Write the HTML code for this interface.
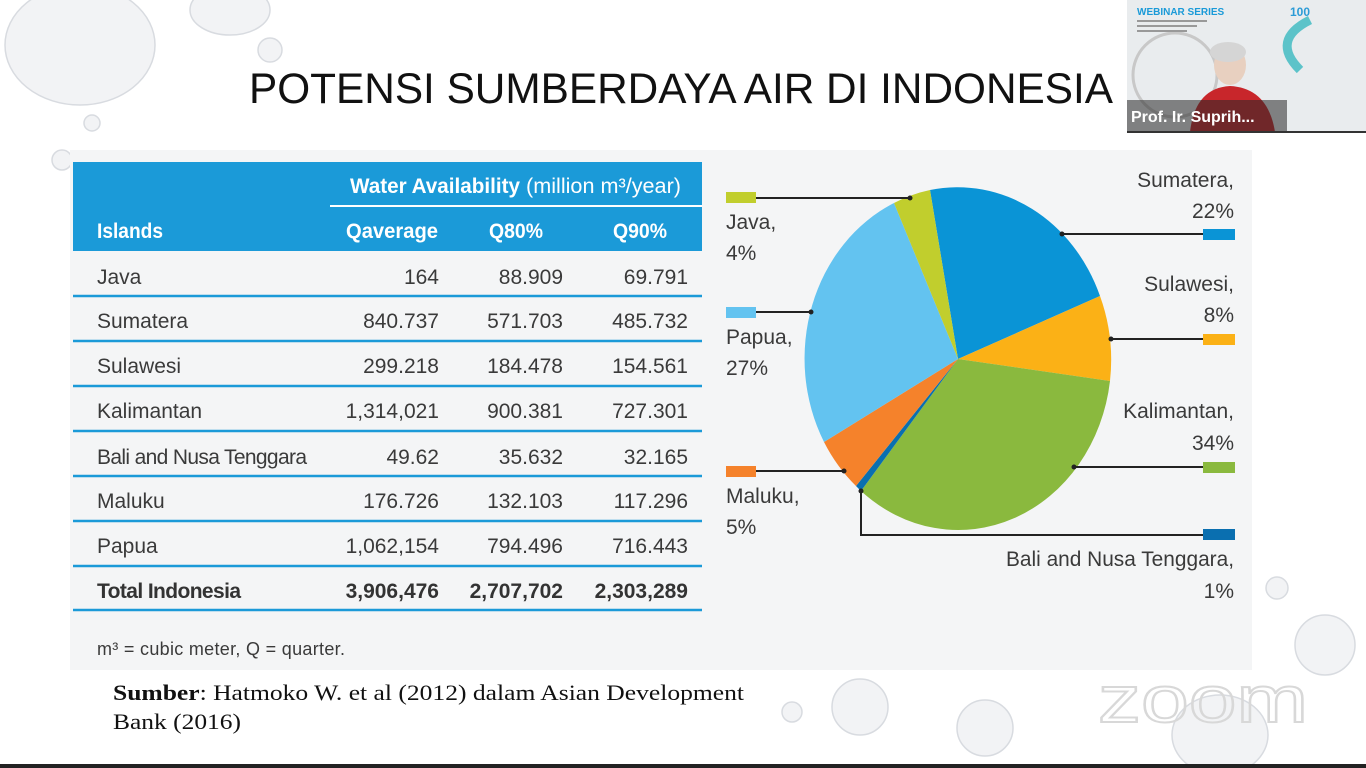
<!DOCTYPE html>
<html><head><meta charset="utf-8"><style>
html,body{margin:0;padding:0;background:#fff;width:1366px;height:768px;overflow:hidden}
</style></head><body>
<svg width="1366" height="768" viewBox="0 0 1366 768" xmlns="http://www.w3.org/2000/svg" style="position:absolute;left:0;top:0">
<rect width="1366" height="768" fill="#fff"/>
<g fill="#f2f3f5" stroke="#d8dbe0" stroke-width="1.5">
<ellipse cx="80" cy="45" rx="75" ry="60"/>
<ellipse cx="230" cy="10" rx="40" ry="25"/>
<circle cx="270" cy="50" r="12"/>
<circle cx="92" cy="123" r="8"/>
<circle cx="62" cy="160" r="10"/>
<circle cx="860" cy="707" r="28"/>
<circle cx="792" cy="712" r="10"/>
<circle cx="985" cy="728" r="28"/>
<ellipse cx="1220" cy="735" rx="48" ry="40"/>
<circle cx="1325" cy="645" r="30"/>
<circle cx="1277" cy="588" r="11"/>
</g>
<rect x="0" y="764" width="1366" height="4" fill="#222"/>
<text x="249" y="103" font-family="Liberation Sans, sans-serif" font-size="43" fill="#111" textLength="864" lengthAdjust="spacingAndGlyphs">POTENSI SUMBERDAYA AIR DI INDONESIA</text>
<rect x="70" y="150" width="1182" height="520" fill="#f4f5f6"/>
<rect x="73" y="162" width="629" height="89" fill="#1b9ad8"/>
<line x1="330" y1="206" x2="702" y2="206" stroke="#fff" stroke-width="2"/>
<g font-family="Liberation Sans, sans-serif" font-weight="bold" fill="#fff" font-size="21">
<text x="350" y="193" textLength="170" lengthAdjust="spacingAndGlyphs">Water Availability</text>
<text x="526" y="193" font-weight="normal" textLength="155" lengthAdjust="spacingAndGlyphs">(million m³/year)</text>
<text x="97" y="238" textLength="66" lengthAdjust="spacingAndGlyphs">Islands</text>
<text x="438" y="238" text-anchor="end" textLength="92" lengthAdjust="spacingAndGlyphs">Qaverage</text>
<text x="543" y="238" text-anchor="end" textLength="54" lengthAdjust="spacingAndGlyphs">Q80%</text>
<text x="667" y="238" text-anchor="end" textLength="54" lengthAdjust="spacingAndGlyphs">Q90%</text>
</g>
<g stroke="#1b9ad8" stroke-width="2.5">
<line x1="73" y1="296" x2="702" y2="296"/><line x1="73" y1="341" x2="702" y2="341"/>
<line x1="73" y1="386" x2="702" y2="386"/><line x1="73" y1="431" x2="702" y2="431"/>
<line x1="73" y1="476" x2="702" y2="476"/><line x1="73" y1="521" x2="702" y2="521"/>
<line x1="73" y1="566" x2="702" y2="566"/><line x1="73" y1="610" x2="702" y2="610"/>
</g>
<g font-family="Liberation Sans, sans-serif" font-size="21" fill="#3a3a3a" lengthAdjust="spacingAndGlyphs">
<text x="97" y="284">Java</text><text x="439" y="284" text-anchor="end">164</text><text x="563" y="284" text-anchor="end">88.909</text><text x="688" y="284" text-anchor="end">69.791</text>
<text x="97" y="328">Sumatera</text><text x="439" y="328" text-anchor="end">840.737</text><text x="563" y="328" text-anchor="end">571.703</text><text x="688" y="328" text-anchor="end">485.732</text>
<text x="97" y="373">Sulawesi</text><text x="439" y="373" text-anchor="end">299.218</text><text x="563" y="373" text-anchor="end">184.478</text><text x="688" y="373" text-anchor="end">154.561</text>
<text x="97" y="418">Kalimantan</text><text x="439" y="418" text-anchor="end">1,314,021</text><text x="563" y="418" text-anchor="end">900.381</text><text x="688" y="418" text-anchor="end">727.301</text>
<text x="97" y="464" textLength="210">Bali and Nusa Tenggara</text><text x="439" y="464" text-anchor="end">49.62</text><text x="563" y="464" text-anchor="end">35.632</text><text x="688" y="464" text-anchor="end">32.165</text>
<text x="97" y="508">Maluku</text><text x="439" y="508" text-anchor="end">176.726</text><text x="563" y="508" text-anchor="end">132.103</text><text x="688" y="508" text-anchor="end">117.296</text>
<text x="97" y="553">Papua</text><text x="439" y="553" text-anchor="end">1,062,154</text><text x="563" y="553" text-anchor="end">794.496</text><text x="688" y="553" text-anchor="end">716.443</text>
<g font-weight="bold" fill="#333"><text x="97" y="598" textLength="144">Total Indonesia</text><text x="439" y="598" text-anchor="end">3,906,476</text><text x="563" y="598" text-anchor="end">2,707,702</text><text x="688" y="598" text-anchor="end">2,303,289</text></g>
<text x="97" y="655" font-size="18" textLength="248">m³ = cubic meter, Q = quarter.</text>
</g>
<g stroke="none">
<path d="M958,359 L930,190 A153,171 0 0 1 1100,296 Z" fill="#0a94d6"/>
<path d="M958,359 L1100,296 A153,171 0 0 1 1110,381 Z" fill="#fbb116"/>
<path d="M958,359 L1110,381 A153,171 0 0 1 861,491 Z" fill="#8ab93e"/>
<path d="M958,359 L861,491 A153,171 0 0 1 856,486 Z" fill="#0a6fb0"/>
<path d="M958,359 L856,486 A153,171 0 0 1 824,442 Z" fill="#f5822b"/>
<path d="M958,359 L824,442 A153,171 0 0 1 894,203 Z" fill="#63c3f0"/>
<path d="M958,359 L894,203 A153,171 0 0 1 930,190 Z" fill="#c1ce2d"/>
</g>
<g stroke="#222" stroke-width="2" fill="none">
<polyline points="756,198 910,198"/>
<polyline points="756,312 811,312"/>
<polyline points="756,471 844,471"/>
<polyline points="861,490 861,535 1203,535"/>
<polyline points="1062,234 1203,234"/>
<polyline points="1111,339 1203,339"/>
<polyline points="1074,467 1203,467"/>
</g>
<g fill="#222"><circle cx="910" cy="198" r="2.5"/><circle cx="811" cy="312" r="2.5"/><circle cx="844" cy="471" r="2.5"/><circle cx="861" cy="491" r="2.5"/><circle cx="1062" cy="234" r="2.5"/><circle cx="1111" cy="339" r="2.5"/><circle cx="1074" cy="467" r="2.5"/></g>
<rect x="726" y="192" width="30" height="11" fill="#c1ce2d"/>
<rect x="726" y="307" width="30" height="11" fill="#63c3f0"/>
<rect x="726" y="466" width="30" height="11" fill="#f5822b"/>
<rect x="1203" y="229" width="32" height="11" fill="#0a94d6"/>
<rect x="1203" y="334" width="32" height="11" fill="#fbb116"/>
<rect x="1203" y="462" width="32" height="11" fill="#8ab93e"/>
<rect x="1203" y="529" width="32" height="11" fill="#0a6fb0"/>
<g font-family="Liberation Sans, sans-serif" font-size="21" fill="#3a3a3a">
<text x="726" y="229">Java,</text><text x="726" y="260">4%</text>
<text x="726" y="344">Papua,</text><text x="726" y="375">27%</text>
<text x="726" y="503">Maluku,</text><text x="726" y="534">5%</text>
<g text-anchor="end"><text x="1234" y="187">Sumatera,</text><text x="1234" y="218">22%</text>
<text x="1234" y="291">Sulawesi,</text><text x="1234" y="322">8%</text>
<text x="1234" y="418">Kalimantan,</text><text x="1234" y="450">34%</text>
<text x="1234" y="566" textLength="228" lengthAdjust="spacingAndGlyphs">Bali and Nusa Tenggara,</text><text x="1234" y="598">1%</text></g>
</g>
<g font-family="Liberation Serif, serif" font-size="22" fill="#111">
<text x="113" y="700" textLength="631" lengthAdjust="spacingAndGlyphs"><tspan font-weight="bold">Sumber</tspan>: Hatmoko W. et al (2012) dalam Asian Development</text>
<text x="113" y="729" textLength="128" lengthAdjust="spacingAndGlyphs">Bank (2016)</text>
</g>
<text x="1098" y="722" font-family="Liberation Sans, sans-serif" font-size="66" fill="none" stroke="#d8d8d8" stroke-width="2" textLength="210" lengthAdjust="spacingAndGlyphs">zoom</text>
<rect x="1127" y="0" width="239" height="132" fill="#e9ecee"/>
<circle cx="1175" cy="75" r="42" fill="none" stroke="#c8c8c8" stroke-width="3"/>
<path d="M1310,20 q-40,20 -10,50" fill="none" stroke="#5cc3c9" stroke-width="9"/>
<text x="1137" y="15" font-family="Liberation Sans, sans-serif" font-size="10" font-weight="bold" fill="#1a9ad8">WEBINAR SERIES</text>
<g fill="#999"><rect x="1137" y="20" width="70" height="2"/><rect x="1137" y="25" width="60" height="2"/><rect x="1137" y="30" width="50" height="2"/></g>
<text x="1290" y="16" font-family="Liberation Sans, sans-serif" font-size="12" font-weight="bold" fill="#2b9bd6">100</text>
<ellipse cx="1230" cy="65" rx="16" ry="20" fill="#e8d0c0"/>
<ellipse cx="1228" cy="52" rx="18" ry="10" fill="#d5d5d5"/>
<path d="M1190,132 Q1195,88 1230,86 Q1268,88 1275,132 Z" fill="#c8262b"/>
<rect x="1127" y="100" width="160" height="31" fill="rgba(40,40,40,0.55)"/>
<text x="1131" y="122" font-family="Liberation Sans, sans-serif" font-size="16" font-weight="bold" fill="#fff">Prof. Ir. Suprih...</text>
<rect x="1127" y="131" width="239" height="2" fill="#333"/>
</svg>
</body></html>
